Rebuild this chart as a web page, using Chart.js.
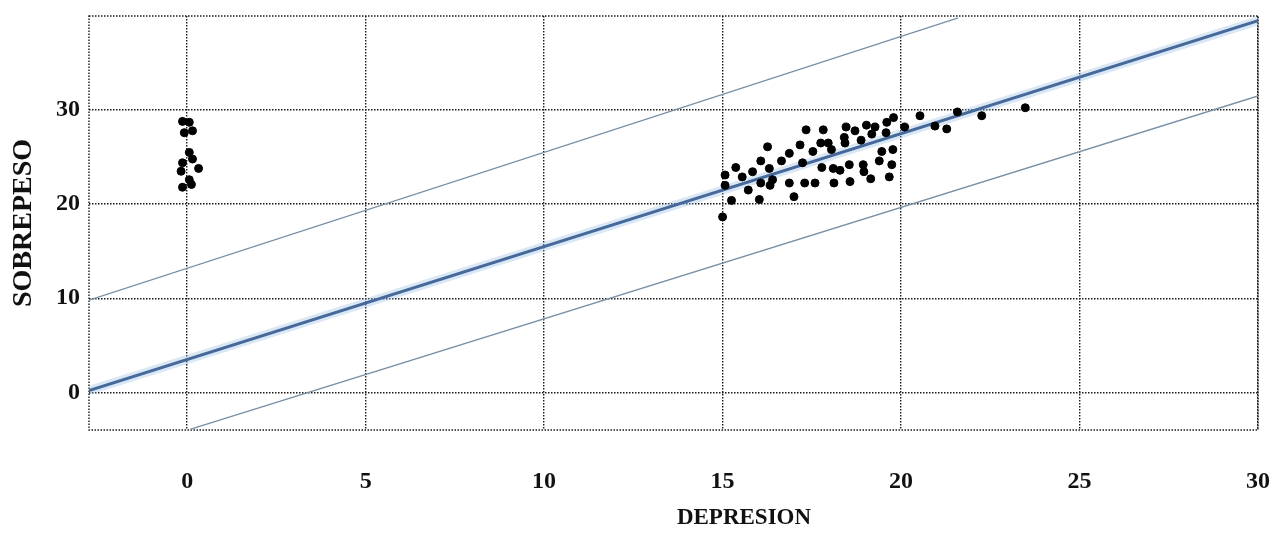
<!DOCTYPE html>
<html>
<head>
<meta charset="utf-8">
<script src="https://cdn.jsdelivr.net/npm/chart.js@4/dist/chart.umd.min.js"></script>
<style>
  html, body { margin: 0; padding: 0; background: #ffffff; }
  #wrap { width: 1281px; height: 535px; position: relative; }
</style>
</head>
<body>
<div id="wrap"><canvas id="c" width="1281" height="535"></canvas></div>
<script>
// ---- Data ----
const depresion = [
  -0.13, 0.06, -0.08, 0.15, 0.06, 0.15, -0.13, 0.32, -0.17, 0.06, -0.13, 0.12,
  15.07, 15.07, 15.0, 15.25, 15.37, 15.55, 15.72, 15.84, 16.03, 16.07, 16.07, 16.26,
  16.31, 16.33, 16.4, 16.65, 16.87, 16.87, 17.0, 17.17, 17.24, 17.34, 17.3, 17.53,
  17.59, 17.75, 17.78, 17.82, 17.96, 18.05, 18.1, 18.12, 18.29, 18.43, 18.46, 18.55,
  18.57, 18.71, 18.88, 18.94, 18.96, 19.03, 19.15, 19.18, 19.27, 19.39, 19.46, 19.58,
  19.6, 19.67, 19.74, 19.77, 19.79, 20.1, 20.53, 20.95, 21.28, 21.58, 22.26, 23.48,
  18.41
];
const sobrepeso = [
  28.8, 28.7, 27.6, 27.8, 25.5, 24.8, 24.4, 23.8, 23.5, 22.6, 21.8, 22.1,
  23.1, 22.0, 18.65, 20.4, 23.9, 22.9, 21.5, 23.45, 20.5, 24.6, 22.25, 26.1,
  23.8, 22.0, 22.6, 24.6, 25.4, 22.25, 20.8, 26.3, 24.4, 27.9, 22.25, 25.6,
  22.25, 26.5, 23.9, 27.9, 26.5, 25.8, 23.8, 22.25, 23.6, 26.5, 28.2, 24.2,
  22.4, 27.8, 26.8, 24.2, 23.45, 28.4, 22.7, 27.45, 28.2, 24.6, 25.6, 27.6,
  28.7, 22.9, 24.2, 25.8, 29.2, 28.2, 29.4, 28.3, 28.0, 29.8, 29.4, 30.25,
  27.1
];
// Fitted line and prediction bands (end points)
const fitX = [-2.75, 30];
const fitY = [0.2, 39.5];
const upperX = [-2.75, 21.6];
const upperY = [9.8, 39.8];
const lowerX = [0.1, 30];
const lowerY = [-3.9, 31.5];
// Axis ticks
const xTicks = [0, 5, 10, 15, 20, 25, 30];
const yTicks = [0, 10, 20, 30];
const xTitle = 'DEPRESION';
const yTitle = 'SOBREPESO';

const toPts = (xs, ys) => xs.map((x, i) => ({ x: x, y: ys[i] }));

const SERIF = '"Liberation Serif", "DejaVu Serif", serif';
const dotted = [1.5, 1.5];
const GRID = '#1a1a1a';

const frame = {
  id: 'frame',
  beforeDatasetsDraw(chart) {
    const a = chart.chartArea, ctx = chart.ctx;
    ctx.save();
    ctx.strokeStyle = GRID;
    ctx.lineWidth = 1.4;
    ctx.setLineDash(dotted);
    ctx.strokeRect(a.left, a.top, a.right - a.left, a.bottom - a.top);
    ctx.restore();
  }
};

// x-axis title, placed where the reference shows it (right of centre)
const xTitlePlugin = {
  id: 'xTitlePlugin',
  afterDraw(chart) {
    const ctx = chart.ctx;
    const sx = chart.scales.x;
    ctx.save();
    ctx.fillStyle = '#111';
    ctx.font = 'bold 23px ' + SERIF;
    ctx.textAlign = 'center';
    ctx.textBaseline = 'middle';
    ctx.fillText(xTitle, sx.getPixelForValue(15.6), 518);
    ctx.restore();
  }
};

new Chart(document.getElementById('c'), {
  type: 'scatter',
  data: {
    datasets: [
      { data: toPts(depresion, sobrepeso), backgroundColor: '#000', borderColor: '#000',
        pointRadius: 4, pointHoverRadius: 4, order: 0 },
      { type: 'line', data: toPts(fitX, fitY), borderColor: 'rgba(150,185,225,0.35)',
        borderWidth: 9, pointRadius: 0, fill: false, order: 5 },
      { type: 'line', data: toPts(fitX, fitY), borderColor: '#46699b',
        borderWidth: 3, pointRadius: 0, fill: false, order: 4 },
      { type: 'line', data: toPts(upperX, upperY), borderColor: '#7890a6',
        borderWidth: 1.4, pointRadius: 0, fill: false, order: 3 },
      { type: 'line', data: toPts(lowerX, lowerY), borderColor: '#7890a6',
        borderWidth: 1.4, pointRadius: 0, fill: false, order: 3 }
    ]
  },
  options: {
    responsive: false,
    animation: false,
    layout: { padding: { left: 6, right: 23, top: 16, bottom: 3 } },
    plugins: { legend: { display: false }, tooltip: { enabled: false } },
    scales: {
      x: {
        type: 'linear', min: -2.75, max: 30,
        afterBuildTicks: s => { s.ticks = xTicks.map(v => ({ value: v })); },
        afterFit: s => { s.height = 102; },
        grid: { color: GRID, lineWidth: 1.4, drawTicks: true, tickLength: 28, tickColor: 'rgba(0,0,0,0)' },
        border: { display: false, dash: dotted },
        ticks: { color: '#111', padding: 9, font: { family: SERIF, size: 24, weight: 'bold' } },
        title: { display: false, text: xTitle }
      },
      y: {
        type: 'linear', min: -4, max: 40,
        afterBuildTicks: s => { s.ticks = yTicks.map(v => ({ value: v })); },
        afterFit: s => { s.width = 83; s.paddingTop = 0; s.paddingBottom = 0; },
        grid: { color: GRID, lineWidth: 1.4, drawTicks: false },
        border: { display: false, dash: dotted },
        ticks: { color: '#111', padding: 9, font: { family: SERIF, size: 24, weight: 'bold', lineHeight: 1 } },
        title: { display: true, text: yTitle, color: '#111', padding: { top: 1, bottom: 0 },
                 font: { family: SERIF, size: 28, weight: 'bold' } }
      }
    }
  },
  plugins: [frame, xTitlePlugin]
});
</script>
</body>
</html>
